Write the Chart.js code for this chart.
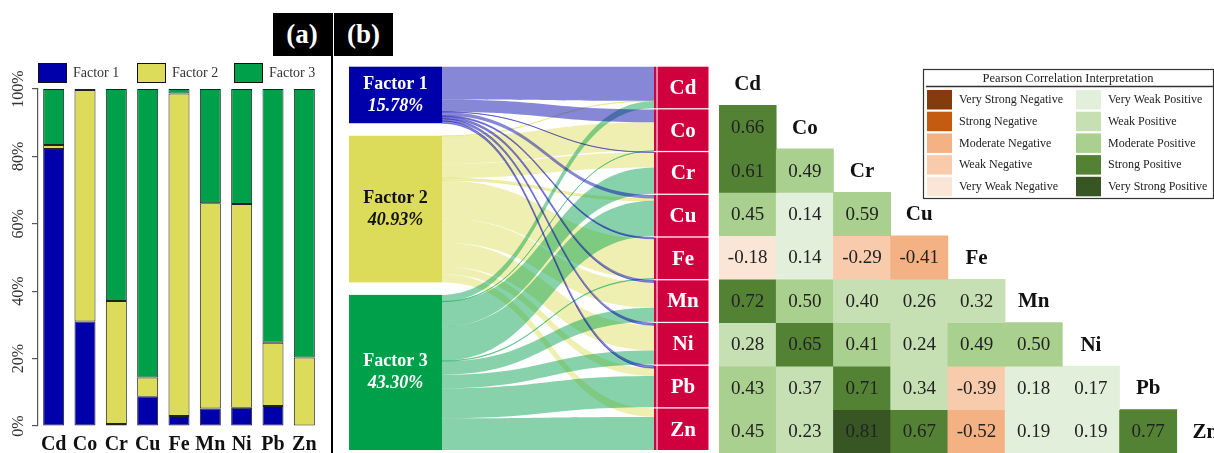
<!DOCTYPE html>
<html>
<head>
<meta charset="utf-8">
<script src="https://cdn.jsdelivr.net/npm/chart.js@4.4.0/dist/chart.umd.min.js"></script>
<style>
  html, body { margin: 0; padding: 0; background: #fff; overflow: hidden; }
  body { width: 1214px; height: 453px; position: relative; }
  .panel { position: absolute; }
  #barBox { left: 0; top: 0; width: 330px; height: 453px; }
  #sankeyBox { left: 345px; top: 62px; width: 370px; height: 391px; }
  #corrBox { left: 719px; top: 62px; width: 515px; height: 391px; }
  .tag { position: absolute; top: 13px; height: 43px; background: #000; color: #fff;
         font: bold 27px "Liberation Serif", serif; text-align: center; line-height: 42px; }
  #tagA { left: 273px; width: 58px; }
  #tagB { left: 334px; width: 59px; }
  #divider { position: absolute; left: 331px; top: 13px; width: 2px; height: 440px; background: #000; }
</style>
</head>
<body>
<div id="barBox" class="panel"><canvas id="factorBars"></canvas></div>
<div id="sankeyBox" class="panel"><canvas id="factorFlows"></canvas></div>
<div id="corrBox" class="panel"><canvas id="pearson"></canvas></div>
<div id="divider"></div>
<div id="tagA" class="tag">(a)</div>
<div id="tagB" class="tag">(b)</div>

<script>
Chart.defaults.font.family = '"Liberation Serif", serif';
Chart.defaults.animation = false;

var elements = ['Cd', 'Co', 'Cr', 'Cu', 'Fe', 'Mn', 'Ni', 'Pb', 'Zn'];
var factorNames = ['Factor 1', 'Factor 2', 'Factor 3'];
// contribution of each factor to every element, in %
var factor1 = [82.2, 31.0, 0.6, 8.7, 3.0, 5.2, 5.4, 5.9, 0.0];
var factor2 = [1.2, 68.7, 36.5, 5.7, 95.7, 60.9, 60.5, 18.8, 20.3];
var factor3 = [16.6, 0.3, 62.9, 85.6, 1.3, 33.9, 34.1, 75.3, 79.7];
var factorShare = [15.78, 40.93, 43.30];
var percentTicks = [0, 20, 40, 60, 80, 100];

// lower triangle of the Pearson matrix, rows Co..Zn against columns Cd..Pb
var corr = [
  [0.66],
  [0.61, 0.49],
  [0.45, 0.14, 0.59],
  [-0.18, 0.14, -0.29, -0.41],
  [0.72, 0.50, 0.40, 0.26, 0.32],
  [0.28, 0.65, 0.41, 0.24, 0.49, 0.50],
  [0.43, 0.37, 0.71, 0.34, -0.39, 0.18, 0.17],
  [0.45, 0.23, 0.81, 0.67, -0.52, 0.19, 0.19, 0.77]
];
var corrClasses = ['Very Strong Negative', 'Strong Negative', 'Moderate Negative', 'Weak Negative', 'Very Weak Negative',
                   'Very Weak Positive', 'Weak Positive', 'Moderate Positive', 'Strong Positive', 'Very Strong Positive'];
var corrLimits = [0.2, 0.4, 0.6, 0.8];

var factorColors = ['#0000AA', '#DCDC5A', '#00A04B'];
var flowColors = ['rgba(0,0,170,0.47)', 'rgba(220,220,90,0.47)', 'rgba(0,160,75,0.47)'];
var classColors = ['#843C0C', '#C55A11', '#F4B183', '#F8CBAD', '#FBE5D6',
                   '#E2EFDA', '#C6E0B4', '#A9D08E', '#548235', '#375623'];
var elementColor = '#D0003E';

function corrClass(r) {
  var a = Math.abs(r);
  var level = 0;
  while (level < corrLimits.length && a > corrLimits[level]) level++;
  return r < 0 ? 4 - level : 5 + level;
}

// ---------- (a) stacked bars ----------
// axis text drawn by hand: rotated % ticks on y, serif element names on x
var axisText = {
  id: 'axisText',
  afterDraw: function(chart) {
    var ys = chart.scales.y, xs = chart.scales.x, ctx = chart.ctx;
    ctx.save();
    ctx.font = '16px "Liberation Serif"';
    ctx.fillStyle = '#333';
    ctx.textAlign = 'center';
    ctx.textBaseline = 'middle';
    ys.ticks.forEach(function(t) {
      ctx.save();
      ctx.translate(19, ys.getPixelForValue(t.value));
      ctx.rotate(-Math.PI / 2);
      ctx.fillText(t.value + '%', 0, 0);
      ctx.restore();
    });
    ctx.font = 'bold 20px "Liberation Serif"';
    ctx.fillStyle = '#111';
    ctx.textBaseline = 'alphabetic';
    chart.data.labels.forEach(function(lab, i) {
      ctx.fillText(lab, xs.getPixelForValue(i), chart.chartArea.bottom + 24);
    });
    ctx.restore();
  }
};

var factorLegend = {
  id: 'factorLegend',
  afterDraw: function(chart, args, opts) {
    var ctx = chart.ctx;
    ctx.save();
    chart.data.datasets.forEach(function(ds, i) {
      var x = opts.x[i], y = opts.y;
      ctx.fillStyle = ds.backgroundColor;
      ctx.fillRect(x, y, 29, 20);
      ctx.strokeStyle = '#111';
      ctx.lineWidth = 1;
      ctx.strokeRect(x + 0.5, y + 0.5, 28, 19);
      ctx.fillStyle = '#333';
      ctx.font = '14px "Liberation Serif"';
      ctx.textBaseline = 'middle';
      ctx.textAlign = 'left';
      ctx.fillText(ds.label, x + 35, y + 10);
    });
    ctx.restore();
  }
};

new Chart(document.getElementById('factorBars'), {
  type: 'bar',
  data: {
    labels: elements,
    datasets: [factor1, factor2, factor3].map(function(vals, i) {
      return {
        label: factorNames[i],
        data: vals,
        backgroundColor: factorColors[i],
        borderColor: '#222',
        borderWidth: 1,
        borderSkipped: false,
        barPercentage: 0.67,
        categoryPercentage: 1
      };
    })
  },
  options: {
    responsive: true,
    maintainAspectRatio: false,
    layout: { padding: { top: 89, right: 10 } },
    scales: {
      x: {
        stacked: true,
        grid: { display: false, drawTicks: false },
        border: { display: false },
        ticks: { display: false },
        afterFit: function(s) { s.height = 27; }
      },
      y: {
        stacked: true,
        min: 0,
        max: 100,
        afterBuildTicks: function(s) { s.ticks = percentTicks.map(function(v) { return { value: v }; }); },
        ticks: { display: false },
        grid: { drawOnChartArea: false, drawTicks: true, tickLength: 6, color: '#555', lineWidth: 1.2 },
        border: { display: true, color: '#555', width: 1.2 },
        afterFit: function(s) { s.width = 38; }
      }
    },
    plugins: {
      legend: { display: false },
      tooltip: { enabled: false },
      factorLegend: { x: [38, 137, 234], y: 63 }
    }
  },
  plugins: [axisText, factorLegend]
});

// ---------- (b) factor -> element flows ----------
var sankey = {
  id: 'sankey',
  afterDraw: function(chart, args, o) {
    var ctx = chart.ctx;
    var sx = chart.scales.x, sl = chart.scales.y, sr = chart.scales.y2;
    var X = function(v) { return sx.getPixelForValue(v); };
    var series = [factor1, factor2, factor3];
    var sums = series.map(function(v) { return v.reduce(function(a, b) { return a + b; }, 0); });
    var elemTotals = elements.map(function(e, k) { return factor1[k] + factor2[k] + factor3[k]; });

    var leftStart = [], acc = 0;
    factorShare.forEach(function(s) { leftStart.push(acc); acc += s + o.gapLeft; });
    var rightStart = [];
    acc = 0;
    elemTotals.forEach(function(t) { rightStart.push(acc); acc += t + o.gapRight; });

    var srcOff = leftStart.slice(), tgtOff = rightStart.slice();
    var links = [];
    elements.forEach(function(e, k) {
      series.forEach(function(vals, f) {
        var v = vals[k];
        var wl = v / sums[f] * factorShare[f];
        if (v > 0) links.push({ f: f, s0: srcOff[f], s1: srcOff[f] + wl, t0: tgtOff[k], t1: tgtOff[k] + v });
        srcOff[f] += wl;
        tgtOff[k] += v;
      });
    });

    var x0 = X(o.linkFrom), x1 = X(o.linkTo), xm = (x0 + x1) / 2;
    ctx.save();
    [1, 2, 0].forEach(function(f) {
      links.filter(function(l) { return l.f === f; }).forEach(function(l) {
        var a0 = sl.getPixelForValue(l.s0), a1 = sl.getPixelForValue(l.s1);
        var b0 = sr.getPixelForValue(l.t0), b1 = sr.getPixelForValue(l.t1);
        ctx.beginPath();
        ctx.moveTo(x0, a0);
        ctx.bezierCurveTo(xm, a0, xm, b0, x1, b0);
        ctx.lineTo(x1, b1);
        ctx.bezierCurveTo(xm, b1, xm, a1, x0, a1);
        ctx.closePath();
        ctx.fillStyle = flowColors[f];
        ctx.fill();
        if (b1 - b0 < 3) {
          ctx.strokeStyle = flowColors[f];
          ctx.lineWidth = 0.8;
          ctx.stroke();
        }
      });
    });

    // factor nodes
    factorShare.forEach(function(s, f) {
      var top = sl.getPixelForValue(leftStart[f]), bot = sl.getPixelForValue(leftStart[f] + s);
      ctx.fillStyle = factorColors[f];
      ctx.fillRect(X(0), top, X(o.linkFrom) - X(0), bot - top);
      var cx = (X(0) + X(o.linkFrom)) / 2, cy = (top + bot) / 2;
      ctx.fillStyle = f === 1 ? '#111' : '#fff';
      ctx.textAlign = 'center';
      ctx.textBaseline = 'middle';
      ctx.font = 'bold 18px "Liberation Serif"';
      ctx.fillText(factorNames[f], cx, cy - 11);
      ctx.font = 'italic bold 18px "Liberation Serif"';
      ctx.fillText(s.toFixed(2) + '%', cx, cy + 11);
    });

    // element nodes
    elements.forEach(function(e, k) {
      var top = sr.getPixelForValue(rightStart[k]), bot = sr.getPixelForValue(rightStart[k] + elemTotals[k]);
      ctx.fillStyle = elementColor;
      ctx.fillRect(X(o.linkTo), top, X(o.stripTo) - X(o.linkTo), bot - top);
      ctx.fillRect(X(o.boxFrom), top, X(o.boxTo) - X(o.boxFrom), bot - top);
      ctx.fillStyle = '#fff';
      ctx.textAlign = 'center';
      ctx.textBaseline = 'middle';
      ctx.font = 'bold 21px "Liberation Serif"';
      ctx.fillText(e, (X(o.boxFrom) + X(o.boxTo)) / 2, (top + bot) / 2 + 1);
    });
    ctx.restore();
  }
};

var leftTotal = factorShare.reduce(function(a, b) { return a + b; }, 0) + 2 * 3.5;
var rightTotal = elements.length * 100 + (elements.length - 1) * 3;

new Chart(document.getElementById('factorFlows'), {
  type: 'scatter',
  data: { datasets: [] },
  options: {
    responsive: true,
    maintainAspectRatio: false,
    layout: { padding: { left: 4, right: 6, top: 4.7, bottom: 3 } },
    scales: {
      x: { type: 'linear', min: 0, max: 360, display: false },
      y: { type: 'linear', min: 0, max: leftTotal, reverse: true, display: false },
      y2: { type: 'linear', axis: 'y', min: 0, max: rightTotal, reverse: true, display: false }
    },
    plugins: {
      legend: { display: false },
      tooltip: { enabled: false },
      sankey: { gapLeft: 3.5, gapRight: 3, linkFrom: 93, linkTo: 305, stripTo: 307.5, boxFrom: 308.5, boxTo: 359.5 }
    }
  },
  plugins: [sankey]
});

// ---------- correlation matrix ----------
var corrText = {
  id: 'corrText',
  afterDraw: function(chart) {
    var ctx = chart.ctx, sx = chart.scales.x, sy = chart.scales.y;
    ctx.save();
    ctx.textAlign = 'center';
    ctx.textBaseline = 'middle';
    ctx.font = '19px "Liberation Serif"';
    ctx.fillStyle = '#222';
    chart.data.datasets.forEach(function(ds, r) {
      chart.getDatasetMeta(r).data.forEach(function(bar, j) {
        var v = corr[r][j];
        if (v === undefined) return;
        ctx.fillText(v.toFixed(2), bar.x, (bar.y + bar.base) / 2 + 1);
      });
    });
    ctx.font = 'bold 21px "Liberation Serif"';
    ctx.fillStyle = '#111';
    elements.forEach(function(e, k) {
      ctx.fillText(e, sx.getPixelForValue(k), sy.getPixelForValue(k + 0.5) + 1);
    });

    // interpretation key
    var bx = 204, by = 7, bw = 290, bh = 129;
    ctx.fillStyle = '#fff';
    ctx.fillRect(bx, by, bw, bh);
    ctx.strokeStyle = '#333';
    ctx.lineWidth = 1.2;
    ctx.strokeRect(bx + 0.5, by + 0.5, bw, bh);
    ctx.fillStyle = '#222';
    ctx.font = '12.5px "Liberation Serif"';
    ctx.fillText('Pearson Correlation Interpretation', bx + bw / 2, by + 10);
    ctx.beginPath();
    ctx.moveTo(bx + 3, by + 17.5);
    ctx.lineTo(bx + bw, by + 17.5);
    ctx.lineWidth = 1.5;
    ctx.stroke();
    ctx.textAlign = 'left';
    ctx.font = '12px "Liberation Serif"';
    corrClasses.forEach(function(name, i) {
      var col = i < 5 ? 0 : 1, row = i % 5;
      var sx0 = bx + 4 + col * 149, sy0 = by + 21 + row * 21.7;
      ctx.fillStyle = classColors[i];
      ctx.fillRect(sx0, sy0, 25, 19.5);
      ctx.fillStyle = '#222';
      ctx.fillText(name, sx0 + 32, sy0 + 10);
    });
    ctx.restore();
  }
};

new Chart(document.getElementById('pearson'), {
  type: 'bar',
  data: {
    labels: elements,
    datasets: corr.map(function(row, r) {
      return {
        label: elements[r + 1],
        data: elements.map(function(e, j) { return j <= r ? [r + 1, r + 2] : null; }),
        backgroundColor: function(c) {
          var v = row[c.dataIndex];
          return v === undefined ? 'rgba(0,0,0,0)' : classColors[corrClass(v)];
        },
        borderWidth: 0,
        grouped: false,
        barPercentage: 1,
        categoryPercentage: 1
      };
    })
  },
  options: {
    responsive: true,
    maintainAspectRatio: false,
    layout: { padding: 0 },
    scales: {
      x: { type: 'category', offset: true, display: false },
      y: { type: 'linear', min: 0, max: elements.length, reverse: true, display: false }
    },
    plugins: { legend: { display: false }, tooltip: { enabled: false } }
  },
  plugins: [corrText]
});
</script>
</body>
</html>
